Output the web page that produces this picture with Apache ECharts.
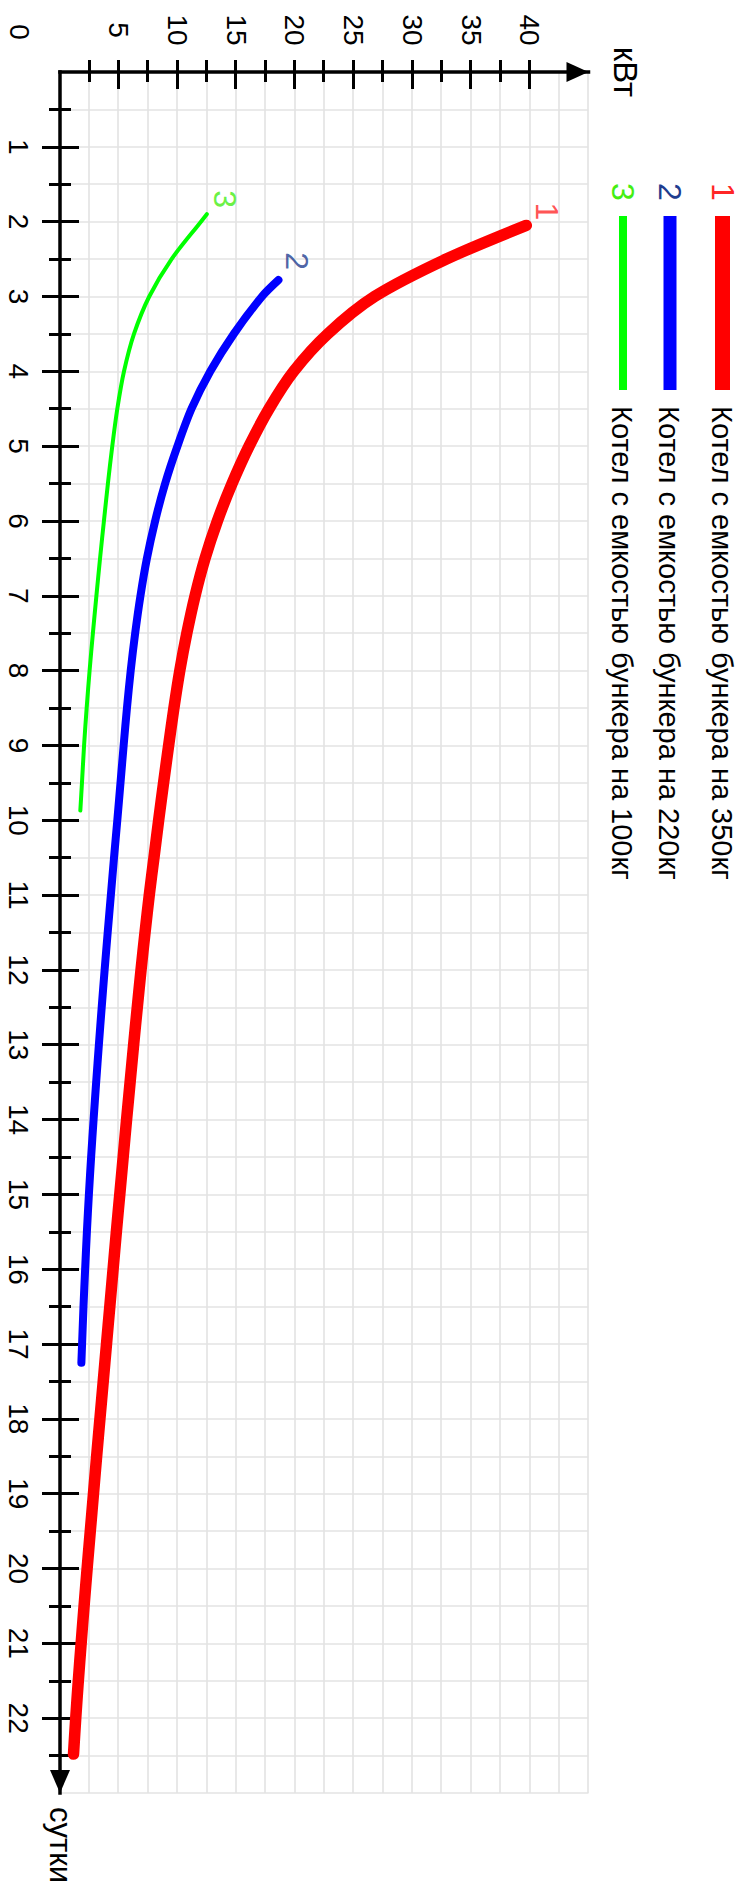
<!DOCTYPE html>
<html><head><meta charset="utf-8">
<script src="https://cdn.jsdelivr.net/npm/echarts@6/dist/echarts.min.js"></script>
<style>
html,body{margin:0;padding:0;background:#fff;overflow:hidden;width:745px;height:1904px;}
#chart{position:absolute;left:745px;top:0;width:1904px;height:745px;transform-origin:0 0;transform:rotate(90deg);background:#fff;}
</style></head><body><div id="chart"></div>
<script>
// ---- data ----
const seriesNames = ['Котел с емкостью бункера на 350кг', 'Котел с емкостью бункера на 220кг', 'Котел с емкостью бункера на 100кг'];
const seriesTags = ['1', '2', '3'];
const lineColors = ['#ff0000', '#0000ff', '#00ff00'];
const tagColors = ['#ff2626', '#1f3d8f', '#44ee11'];

const days350 = [2.05, 2.5, 3, 3.5, 4, 4.5, 5, 5.5, 6, 6.5, 7, 7.5, 8, 8.5, 9, 9.5, 10, 10.5, 11, 11.5, 12, 12.5, 13, 13.5, 14, 14.5, 15, 15.5, 16, 16.5, 17, 17.5, 18, 18.5, 19, 19.5, 20, 20.5, 21, 21.5, 22, 22.48];
const kw350 = [39.7, 32.9, 26.8, 22.8, 19.9, 17.8, 16.1, 14.65, 13.4, 12.35, 11.5, 10.8, 10.2, 9.7, 9.25, 8.82, 8.4, 8.0, 7.6, 7.24, 6.9, 6.58, 6.27, 5.97, 5.67, 5.38, 5.09, 4.8, 4.52, 4.24, 3.96, 3.68, 3.4, 3.12, 2.85, 2.58, 2.31, 2.05, 1.8, 1.56, 1.34, 1.15];

const days220 = [2.78, 3, 3.5, 4, 4.5, 5, 5.5, 6, 6.5, 7, 7.5, 8, 8.5, 9, 9.5, 10, 10.5, 11, 11.5, 12, 12.5, 13, 13.5, 14, 14.5, 15, 15.5, 16, 16.5, 17, 17.25];
const kw220 = [18.6, 17.2, 14.8, 12.8, 11.2, 10.0, 8.95, 8.1, 7.4, 6.85, 6.4, 6.02, 5.7, 5.42, 5.15, 4.88, 4.6, 4.33, 4.06, 3.8, 3.55, 3.31, 3.08, 2.86, 2.65, 2.46, 2.29, 2.14, 2.0, 1.88, 1.82];

const days100 = [1.9, 2, 2.5, 3, 3.5, 4, 4.5, 5, 5.5, 6, 6.5, 7, 7.5, 8, 8.5, 9, 9.5, 9.87];
const kw100 = [12.5, 12.0, 9.5, 7.6, 6.3, 5.45, 4.88, 4.45, 4.08, 3.74, 3.41, 3.1, 2.8, 2.52, 2.27, 2.05, 1.87, 1.73];

const dayMajorTicks = [1, 2, 3, 4, 5, 6, 7, 8, 9, 10, 11, 12, 13, 14, 15, 16, 17, 18, 19, 20, 21, 22];
const dayMinorTicks = [0.5, 1.5, 2.5, 3.5, 4.5, 5.5, 6.5, 7.5, 8.5, 9.5, 10.5, 11.5, 12.5, 13.5, 14.5, 15.5, 16.5, 17.5, 18.5, 19.5, 20.5, 21.5, 22.5];
const kwMajorTicks = [5, 10, 15, 20, 25, 30, 35, 40];
const kwMinorTicks = [2.5, 7.5, 12.5, 17.5, 22.5, 27.5, 32.5, 37.5];
const originLabel = '0';
const dayAxisName = 'сутки';
const kwAxisName = 'кВт';

// ---- chart ----
const FONT = '"Liberation Sans", Arial, sans-serif';
const allDays = [days350, days220, days100];
const allKw = [kw350, kw220, kw100];
const lineWidths = [11.5, 8, 4];
const tagOffsets = [[-14, -21], [-19, -19], [-15, -18]];

function dayAxis(extra) {
  return Object.assign({type: 'value', min: 0, max: 23, position: 'bottom', gridIndex: 0,
    axisLine: {show: false}, axisTick: {show: false}, axisLabel: {show: false}, splitLine: {show: false}}, extra);
}
function kwAxis(extra) {
  return Object.assign({type: 'value', min: 0, max: 45, position: 'left', gridIndex: 0,
    axisLine: {show: false}, axisTick: {show: false}, axisLabel: {show: false}, splitLine: {show: false}}, extra);
}
const tickStyle = {color: '#000', width: 3};
const gridLine = {show: true, lineStyle: {color: '#e3e3e3', width: 1.6}};

const xAxes = [
  dayAxis({interval: 0.5, splitLine: gridLine}),
  dayAxis({axisTick: {show: true, inside: true, length: 19, customValues: dayMajorTicks, lineStyle: tickStyle}}),
  dayAxis({axisTick: {show: true, inside: false, length: 18, customValues: dayMajorTicks, lineStyle: tickStyle}}),
  dayAxis({axisTick: {show: true, inside: true, length: 11, customValues: dayMinorTicks, lineStyle: tickStyle}}),
  dayAxis({axisTick: {show: true, inside: false, length: 11, customValues: dayMinorTicks, lineStyle: tickStyle}}),
  dayAxis({
    axisLine: {show: true, symbol: ['none', 'triangle'], symbolSize: [20, 23], symbolOffset: [0, -11.5],
      lineStyle: {color: '#000', width: 3.5, cap: 'square'}},
    axisLabel: {show: true, customValues: dayMajorTicks, fontSize: 28, fontFamily: FONT, color: '#000',
      margin: 42, verticalAlign: 'middle'},
    name: dayAxisName, nameLocation: 'end', nameGap: 14,
    nameTextStyle: {fontSize: 31, fontFamily: FONT, color: '#000', align: 'left', verticalAlign: 'middle'}
  })
];
const yAxes = [
  kwAxis({interval: 2.5, splitLine: gridLine}),
  kwAxis({axisTick: {show: true, inside: true, length: 17, customValues: kwMajorTicks, lineStyle: tickStyle}}),
  kwAxis({axisTick: {show: true, inside: false, length: 12, customValues: kwMajorTicks, lineStyle: tickStyle}}),
  kwAxis({axisTick: {show: true, inside: true, length: 10, customValues: kwMinorTicks, lineStyle: tickStyle}}),
  kwAxis({axisTick: {show: true, inside: false, length: 12, customValues: kwMinorTicks, lineStyle: tickStyle}}),
  kwAxis({
    axisLine: {show: true, symbol: ['none', 'triangle'], symbolSize: [20, 22], symbolOffset: [0, -11],
      lineStyle: {color: '#000', width: 3.5, cap: 'square'}},
    axisLabel: {show: true, customValues: kwMajorTicks, fontSize: 28, fontFamily: FONT, color: '#000',
      margin: 42, align: 'center'},
    name: kwAxisName, nameLocation: 'end', nameGap: 37,
    nameTextStyle: {fontSize: 33, fontFamily: FONT, color: '#000', align: 'center', verticalAlign: 'middle'}
  })
];

const series = [];
for (let s = 0; s < 3; s++) {
  series.push({
    type: 'line', name: seriesNames[s], xAxisIndex: 0, yAxisIndex: 0,
    data: allDays[s].map((d, i) => [d, allKw[s][i]]),
    showSymbol: false, smooth: 0.3,
    lineStyle: {color: lineColors[s], width: lineWidths[s], cap: 'round', join: 'round'},
    z: 3 + s, silent: true
  });
  series.push({
    type: 'scatter', name: seriesTags[s], xAxisIndex: 0, yAxisIndex: 0,
    data: [[allDays[s][0], allKw[s][0]]], symbolSize: 1,
    itemStyle: {color: 'rgba(0,0,0,0)'},
    label: {show: true, position: 'inside', offset: tagOffsets[s], formatter: seriesTags[s],
      fontSize: 32, fontFamily: FONT, color: tagColors[s]},
    z: 10, silent: true
  });
}

// legend drawn as graphic (rotated layout)
const legendV = [22.5, 75, 122];
const legendThick = [15, 13, 8];
const graphic = [];
for (let s = 0; s < 3; s++) {
  graphic.push({type: 'rect', left: 216, top: legendV[s] - legendThick[s] / 2,
    shape: {width: 174, height: legendThick[s]}, style: {fill: lineColors[s]}});
  graphic.push({type: 'text', x: 192, y: legendV[s],
    style: {text: seriesTags[s], fill: tagColors[s], font: '32px ' + FONT, textAlign: 'center', textVerticalAlign: 'middle'}});
  graphic.push({type: 'text', x: 406, y: legendV[s] + 1,
    style: {text: seriesNames[s], fill: '#000', font: '29px ' + FONT, textAlign: 'left', textVerticalAlign: 'middle'}});
}
graphic.push({type: 'text', x: 32, y: 726,
  style: {text: originLabel, fill: '#000', font: '28px ' + FONT, textAlign: 'center', textVerticalAlign: 'middle'}});

const chart = echarts.init(document.getElementById('chart'), null, {renderer: 'svg', width: 1904, height: 745});
chart.setOption({
  animation: false,
  backgroundColor: '#fff',
  grid: {left: 72, top: 156.5, width: 1721, height: 528.5, containLabel: false},
  xAxis: xAxes,
  yAxis: yAxes,
  series: series,
  graphic: graphic
});
</script></body></html>
